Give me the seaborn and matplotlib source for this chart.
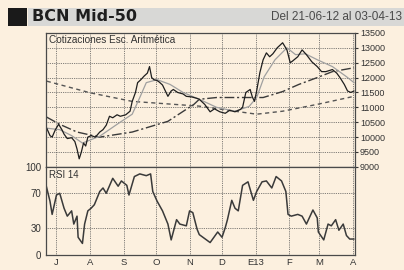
import pandas as pd
import matplotlib.pyplot as plt
from matplotlib.patches import Rectangle
import seaborn as sns

# cotizacion (cierre aproximado)
precio_fechas = ['2012-06-22', '2012-06-25', '2012-06-27', '2012-06-30', '2012-07-03', '2012-07-06',
                 '2012-07-08', '2012-07-11', '2012-07-15', '2012-07-18', '2012-07-20', '2012-07-22',
                 '2012-07-24', '2012-07-26', '2012-07-28', '2012-07-30', '2012-08-02', '2012-08-06',
                 '2012-08-10', '2012-08-13', '2012-08-16', '2012-08-19', '2012-08-22', '2012-08-26',
                 '2012-08-29', '2012-09-03', '2012-09-07', '2012-09-09', '2012-09-12', '2012-09-14',
                 '2012-09-17', '2012-09-20', '2012-09-23', '2012-09-25', '2012-09-27', '2012-09-29',
                 '2012-10-02', '2012-10-04', '2012-10-07', '2012-10-12', '2012-10-15', '2012-10-17',
                 '2012-10-21', '2012-10-26', '2012-10-29', '2012-11-03', '2012-11-08', '2012-11-10',
                 '2012-11-15', '2012-11-20', '2012-11-24', '2012-11-29', '2012-12-04', '2012-12-08',
                 '2012-12-13', '2012-12-18', '2012-12-20', '2012-12-23', '2012-12-27', '2012-12-29',
                 '2012-12-31', '2013-01-02', '2013-01-05', '2013-01-08', '2013-01-11', '2013-01-14',
                 '2013-01-17', '2013-01-21', '2013-01-26', '2013-01-30', '2013-02-02', '2013-02-04',
                 '2013-02-09', '2013-02-13', '2013-02-17', '2013-02-22', '2013-02-27', '2013-03-03',
                 '2013-03-07', '2013-03-13', '2013-03-17', '2013-03-20', '2013-03-24', '2013-03-27',
                 '2013-03-30', '2013-04-02']
precio = [10300, 10050, 10000, 10250, 10430, 10250,
          10100, 9950, 9980, 9850, 9600, 9270,
          9500, 9800, 9700, 10000, 10050, 10000,
          10170, 10250, 10400, 10700, 10650, 10750,
          10700, 10750, 10870, 11200, 11500, 11830,
          11930, 12050, 12150, 12370, 12000, 11930,
          11900, 11850, 11750, 11370, 11550, 11600,
          11500, 11450, 11370, 11350, 11300, 11270,
          11100, 10850, 10950, 10850, 10800, 10900,
          10850, 10930, 11000, 11500, 11600, 11350,
          11200, 11550, 12170, 12600, 12830, 12700,
          12800, 13000, 13170, 12930, 12500, 12550,
          12700, 12930, 12770, 12530, 12370, 12200,
          12200, 12270, 12150, 12000, 11770, 11550,
          11500, 11550]

# media corta (gris)
mc_fechas = ['2012-06-22', '2012-07-04', '2012-07-15', '2012-07-25', '2012-08-10', '2012-08-26',
             '2012-09-09', '2012-09-16', '2012-09-22', '2012-10-02', '2012-10-14', '2012-10-26',
             '2012-11-10', '2012-11-26', '2012-12-13', '2012-12-26', '2013-01-02', '2013-01-09',
             '2013-01-19', '2013-01-30', '2013-02-07', '2013-02-16', '2013-02-27', '2013-03-13',
             '2013-03-26', '2013-04-02']
mc = [10300, 10250, 10050, 9800, 10030, 10430,
      10770, 11330, 11830, 11930, 11770, 11500,
      11270, 11000, 10870, 11030, 11330, 12030,
      12600, 13000, 12770, 12800, 12600, 12370,
      12030, 11830]

# media intermedia (trazo y punto)
mm_fechas = ['2012-06-22', '2012-07-04', '2012-07-20', '2012-08-10', '2012-09-09', '2012-10-12',
             '2012-11-05', '2012-11-10', '2012-11-26', '2012-12-20', '2013-01-08', '2013-01-26',
             '2013-02-10', '2013-02-27', '2013-03-13', '2013-04-02']
mm = [10670, 10430, 10170, 10000, 10170, 10530,
      11100, 11270, 11330, 11330, 11330, 11530,
      11770, 12000, 12200, 12330]

# media larga (discontinua)
ml_fechas = ['2012-06-22', '2012-08-01', '2012-09-09', '2012-11-10', '2012-12-13', '2013-01-02',
             '2013-01-26', '2013-02-27', '2013-04-02']
ml = [11880, 11490, 11200, 11040, 10870, 10770, 10870, 11100, 11370]

# RSI 14
rsi_fechas = ['2012-06-21', '2012-06-25', '2012-06-27', '2012-07-01', '2012-07-04', '2012-07-08',
              '2012-07-11', '2012-07-15', '2012-07-17', '2012-07-20', '2012-07-21', '2012-07-25',
              '2012-07-27', '2012-07-30', '2012-08-02', '2012-08-05', '2012-08-10', '2012-08-13',
              '2012-08-16', '2012-08-22', '2012-08-27', '2012-08-30', '2012-09-04', '2012-09-06',
              '2012-09-11', '2012-09-16', '2012-09-22', '2012-09-26', '2012-09-28', '2012-10-02',
              '2012-10-07', '2012-10-12', '2012-10-15', '2012-10-20', '2012-10-23', '2012-10-29',
              '2012-11-01', '2012-11-04', '2012-11-08', '2012-11-10', '2012-11-20', '2012-11-27',
              '2012-12-01', '2012-12-04', '2012-12-06', '2012-12-10', '2012-12-13', '2012-12-16',
              '2012-12-20', '2012-12-25', '2012-12-30', '2013-01-02', '2013-01-07', '2013-01-11',
              '2013-01-16', '2013-01-20', '2013-01-25', '2013-01-29', '2013-01-31', '2013-02-03',
              '2013-02-09', '2013-02-13', '2013-02-17', '2013-02-23', '2013-02-27', '2013-02-28',
              '2013-03-05', '2013-03-09', '2013-03-12', '2013-03-16', '2013-03-19', '2013-03-23',
              '2013-03-26', '2013-03-29', '2013-04-02']
rsi = [81, 61, 46, 68, 70, 53,
       44, 50, 35, 44, 20, 13,
       35, 50, 53, 57, 72, 76,
       70, 87, 78, 84, 79, 68,
       89, 92, 90, 92, 72, 61,
       50, 35, 17, 40, 35, 33,
       50, 48, 29, 23, 14, 26,
       20, 31, 40, 62, 53, 50,
       79, 83, 62, 72, 83, 84,
       76, 89, 84, 72, 46, 44,
       46, 44, 35, 51, 42, 26,
       17, 35, 33, 40, 28, 35,
       22, 18, 18]

meses = ['2012-07-01', '2012-08-01', '2012-09-01', '2012-10-01', '2012-11-01', '2012-12-01',
         '2013-01-01', '2013-02-01', '2013-03-01', '2013-04-01']
meses_etiq = ['J', 'A', 'S', 'O', 'N', 'D', 'E13', 'F', 'M', 'A']
precio_ticks = [9000, 9500, 10000, 10500, 11000, 11500, 12000, 12500, 13000, 13500]
rsi_ticks = [0, 30, 70, 100]

fondo = '#fcf0df'
sns.set_style('white', {'axes.facecolor': fondo})
plt.rcParams['font.family'] = ['Liberation Sans', 'DejaVu Sans']

fig = plt.figure(figsize=(4.04, 2.70), dpi=100, facecolor=fondo)
ax1 = fig.add_axes([0.113, 0.382, 0.766, 0.496])
ax2 = fig.add_axes([0.113, 0.056, 0.766, 0.326], sharex=ax1)

df_p = pd.DataFrame({'fecha': pd.to_datetime(precio_fechas), 'valor': precio})
df_mc = pd.DataFrame({'fecha': pd.to_datetime(mc_fechas), 'valor': mc})
df_mm = pd.DataFrame({'fecha': pd.to_datetime(mm_fechas), 'valor': mm})
df_ml = pd.DataFrame({'fecha': pd.to_datetime(ml_fechas), 'valor': ml})
df_rsi = pd.DataFrame({'fecha': pd.to_datetime(rsi_fechas), 'valor': rsi})

sns.lineplot(data=df_ml, x='fecha', y='valor', ax=ax1, color='#555555', lw=1.0, linestyle=(0, (3, 2.5)))
sns.lineplot(data=df_mm, x='fecha', y='valor', ax=ax1, color='#3a3a3a', lw=1.0, linestyle=(0, (7, 2, 1.5, 2)))
sns.lineplot(data=df_mc, x='fecha', y='valor', ax=ax1, color='#a0a0a0', lw=0.9)
sns.lineplot(data=df_p, x='fecha', y='valor', ax=ax1, color='#1e1e1e', lw=0.9)
sns.lineplot(data=df_rsi, x='fecha', y='valor', ax=ax2, color='#3a3a3a', lw=1.1)

grid_kw = dict(color='#555555', lw=0.6, linestyle=(0, (1, 1.2)))
x0, x1 = pd.Timestamp('2012-06-21'), pd.Timestamp('2013-04-03')
for ax in (ax1, ax2):
    ax.set_xlim(x0, x1)
    for m in meses:
        ax.axvline(pd.Timestamp(m), **grid_kw, zorder=0)
    for s in ax.spines.values():
        s.set_color('#4a4a4a')
        s.set_linewidth(0.9)
    ax.set_xlabel('')
    ax.set_ylabel('')

ax1.set_ylim(9000, 13500)
for v in precio_ticks[1:-1]:
    ax1.axhline(v, **grid_kw, zorder=0)
ax1.yaxis.tick_right()
ax1.set_yticks(precio_ticks)
ax1.set_yticklabels([str(v) for v in precio_ticks])
ax1.tick_params(axis='y', labelsize=6.5, colors='#333333', length=2, pad=1.5)
ax1.tick_params(axis='x', bottom=False, labelbottom=False)
ax1.text(0.012, 0.985, 'Cotizaciones Esc. Aritmética', transform=ax1.transAxes,
         fontsize=7.2, color='#333333', va='top', ha='left')

ax2.set_ylim(0, 100)
for v in (30, 70):
    ax2.axhline(v, **grid_kw, zorder=0)
ax2.set_yticks(rsi_ticks)
ax2.set_yticklabels([str(v) for v in rsi_ticks])
ax2.tick_params(axis='y', labelsize=7, colors='#333333', length=0, pad=3)
ax2.set_xticks(pd.to_datetime(meses))
ax2.set_xticklabels(meses_etiq)
ax2.tick_params(axis='x', labelsize=6.8, colors='#333333', length=2, pad=0.5)
ax2.text(0.012, 0.97, 'RSI 14', transform=ax2.transAxes,
         fontsize=7, color='#333333', va='top', ha='left')

# cabecera
fig.patches.append(Rectangle((0.07, 0.905), 0.93, 0.066, transform=fig.transFigure,
                             facecolor='#d8d8d6', edgecolor='none'))
fig.patches.append(Rectangle((0.02, 0.905), 0.048, 0.066, transform=fig.transFigure,
                             facecolor='#1a1a1a', edgecolor='none'))
fig.text(0.078, 0.938, 'BCN Mid-50', fontsize=11.5, fontweight='bold', color='#1e1e1e',
         va='center', ha='left', family=['Liberation Sans Narrow', 'DejaVu Sans'])
fig.text(0.995, 0.936, 'Del 21-06-12 al 03-04-13', fontsize=8.5, color='#4a4a4a',
         va='center', ha='right')

fig.savefig('out.png', dpi=100, facecolor=fondo)
